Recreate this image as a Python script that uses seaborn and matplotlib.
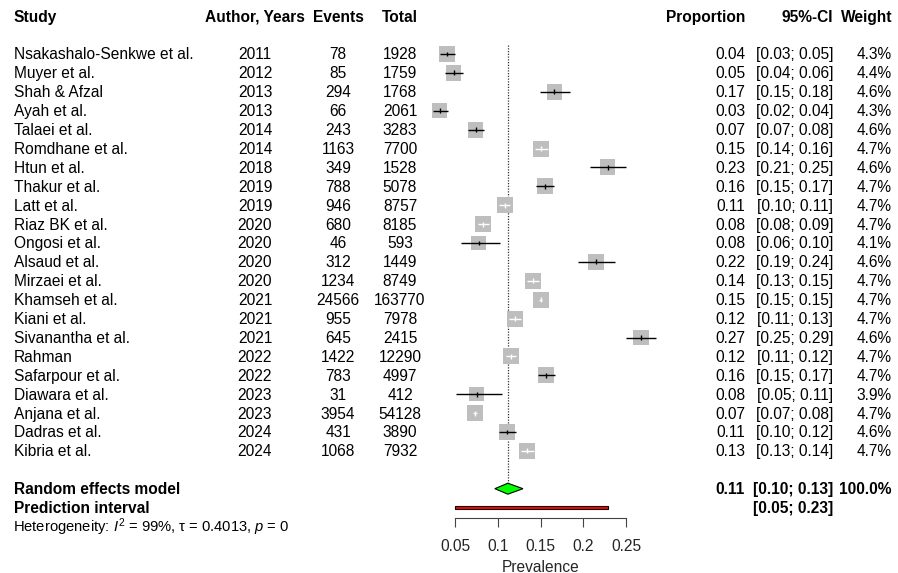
"""Forest plot of prevalence estimates (meta-analysis style)."""

import matplotlib

matplotlib.use("Agg")
import matplotlib.pyplot as plt
import matplotlib.transforms as mtransforms
import numpy as np
import pandas as pd
import seaborn as sns

studies = [
    "Nsakashalo-Senkwe et al.", "Muyer et al.", "Shah & Afzal", "Ayah et al.",
    "Talaei et al.", "Romdhane et al.", "Htun et al.", "Thakur et al.",
    "Latt et al.", "Riaz BK et al.", "Ongosi et al.", "Alsaud et al.",
    "Mirzaei et al.", "Khamseh et al.", "Kiani et al.", "Sivanantha et al.",
    "Rahman", "Safarpour et al.", "Diawara et al.", "Anjana et al.",
    "Dadras et al.", "Kibria et al.",
]
years = [2011, 2012, 2013, 2013, 2014, 2014, 2018, 2019, 2019, 2020, 2020,
         2020, 2020, 2021, 2021, 2021, 2022, 2022, 2023, 2023, 2024, 2024]
events = [78, 85, 294, 66, 243, 1163, 349, 788, 946, 680, 46,
          312, 1234, 24566, 955, 645, 1422, 783, 31, 3954, 431, 1068]
totals = [1928, 1759, 1768, 2061, 3283, 7700, 1528, 5078, 8757, 8185, 593,
          1449, 8749, 163770, 7978, 2415, 12290, 4997, 412, 54128, 3890, 7932]
proportion = [0.0405, 0.0483, 0.1663, 0.0320, 0.0740, 0.1510, 0.2284, 0.1552,
              0.1080, 0.0831, 0.0776, 0.2153, 0.1410, 0.1500, 0.1197, 0.2671,
              0.1157, 0.1567, 0.0752, 0.0730, 0.1108, 0.1346]
ci_lower = [0.0322, 0.0387, 0.1490, 0.0245, 0.0653, 0.1431, 0.2076, 0.1453,
            0.1016, 0.0772, 0.0573, 0.1944, 0.1338, 0.1483, 0.1126, 0.2495,
            0.1101, 0.1467, 0.0516, 0.0709, 0.1012, 0.1272]
ci_upper = [0.0502, 0.0596, 0.1840, 0.0418, 0.0836, 0.1592, 0.2499, 0.1654,
            0.1147, 0.0893, 0.1021, 0.2374, 0.1485, 0.1517, 0.1270, 0.2852,
            0.1215, 0.1669, 0.1051, 0.0753, 0.1209, 0.1423]
weights = [4.3, 4.4, 4.6, 4.3, 4.6, 4.7, 4.6, 4.7, 4.7, 4.7, 4.1,
           4.6, 4.7, 4.7, 4.7, 4.6, 4.7, 4.7, 3.9, 4.7, 4.6, 4.7]

re_est, re_lower, re_upper = 0.1118, 0.0966, 0.1295
pi_lower, pi_upper = 0.0502, 0.2295
x_ticks = [0.05, 0.1, 0.15, 0.2, 0.25]
tick_labels = ["0.05", "0.1", "0.15", "0.2", "0.25"]
hetstat = r"Heterogeneity: $I^2$ = 99%, τ = 0.4013, $p$ = 0"

FS = 11.2
W, H = 898, 573
ROW0, ROW_H = 54, 18.9          # pixel y of first study row, row height
XLIM = (0.01, 0.30)
PX_PER_UNIT = 855

sns.set_theme(style="white")
plt.rcParams.update(
    {
        "font.family": ["Liberation Sans", "DejaVu Sans"],
        "mathtext.fontset": "custom",
        "mathtext.rm": "Liberation Sans",
        "mathtext.it": "Liberation Sans:italic",
        "mathtext.bf": "Liberation Sans:bold",
        "text.color": "black",
    }
)

df = pd.DataFrame(
    {
        "study": studies, "year": years, "events": events, "total": totals,
        "prop": proportion, "lower": ci_lower, "upper": ci_upper, "weight": weights,
    }
)
df["row"] = np.arange(len(df))
n = len(df)
re_row, pi_row, het_row, head_row = n + 1, n + 2, n + 3, -2

fig = plt.figure(figsize=(W / 100, H / 100), dpi=100)
left_px = 455 - (0.05 - XLIM[0]) * PX_PER_UNIT
width_px = (XLIM[1] - XLIM[0]) * PX_PER_UNIT
ax = fig.add_axes([left_px / W, 0, width_px / W, 1])
ax.set_xlim(*XLIM)
ax.set_ylim((H - ROW0) / ROW_H, -ROW0 / ROW_H)
ax.patch.set_alpha(0)

# squares: area proportional to weight
big_side_px, w_max = 16.0, 4.7
area = lambda w: (big_side_px * np.sqrt(w / w_max) * 72 / 100) ** 2
sns.scatterplot(
    data=df, x="prop", y="row", size="weight",
    sizes=(area(df["weight"].min()), area(w_max)),
    size_norm=(df["weight"].min(), w_max),
    marker="s", color="#bebebe", linewidth=0, legend=False, ax=ax, zorder=2,
)

# CI lines: white when they sit inside the square
half_side = big_side_px * np.sqrt(df["weight"] / w_max) / 2 / PX_PER_UNIT
inside = ((df["prop"] - df["lower"]) < half_side) & ((df["upper"] - df["prop"]) < half_side)
colors = np.where(inside, "white", "black")
ax.hlines(df["row"], df["lower"], df["upper"], colors=colors, linewidth=1.0, zorder=3)
ax.vlines(df["prop"], df["row"] - 0.13, df["row"] + 0.13, colors=colors, linewidth=1.0, zorder=3)

# random-effects line, diamond and prediction interval
ax.vlines(re_est, -0.5, re_row - 0.3, colors="#333333", linestyles=(0, (1, 1.2)),
          linewidth=0.9, zorder=1)
dh = 0.29
ax.fill([re_lower, re_est, re_upper, re_est], [re_row, re_row - dh, re_row, re_row + dh],
        facecolor="#00ff00", edgecolor="black", linewidth=0.8, zorder=3)
ax.fill([pi_lower, pi_upper, pi_upper, pi_lower],
        [pi_row - 0.1, pi_row - 0.1, pi_row + 0.1, pi_row + 0.1],
        facecolor="#ff0000", edgecolor="black", linewidth=0.8, zorder=3)

# x axis
for side in ["top", "left", "right"]:
    ax.spines[side].set_visible(False)
ax.spines["bottom"].set_position(("data", n + 2.53))
ax.spines["bottom"].set_bounds(x_ticks[0], x_ticks[-1])
ax.spines["bottom"].set_color("#444444")
ax.spines["bottom"].set_linewidth(0.8)
ax.set_xticks(x_ticks, tick_labels)
ax.set_yticks([])
ax.tick_params(axis="x", bottom=True, direction="out", length=6.7, width=0.8,
               color="#444444", pad=9, labelsize=FS)
ax.set_xlabel("Prevalence", fontsize=FS)
ax.xaxis.set_label_coords(0.15, n + 4.75, transform=ax.transData)
ax.set_ylabel("")

# text columns (x in figure pixels, y in rows)
tr = mtransforms.blended_transform_factory(
    mtransforms.Affine2D().scale(1 / W, 1) + fig.transFigure, ax.transData
)
base = 0.29  # baseline offset so the caps sit centred on the row


def put(x, row, s, ha="left", bold=False, size=FS):
    ax.text(x, row + base, s, ha=ha, va="baseline", transform=tr, fontsize=size,
            fontweight="bold" if bold else "normal", clip_on=False)


headers = [(14, "Study", "left"), (255, "Author, Years", "center"), (338, "Events", "center"),
           (400, "Total", "center"), (745, "Proportion", "right"), (833, "95%-CI", "right"),
           (892, "Weight", "right")]
for x, s, ha in headers:
    put(x, head_row, s, ha=ha, bold=True)

for _, r in df.iterrows():
    i = r["row"]
    put(14, i, r["study"])
    put(255, i, str(r["year"]), ha="center")
    put(338, i, str(r["events"]), ha="center")
    put(400, i, str(r["total"]), ha="center")
    put(745, i, f"{r['prop']:.2f}", ha="right")
    put(833, i, f"[{r['lower']:.2f}; {r['upper']:.2f}]", ha="right")
    put(892, i, f"{r['weight']:.1f}%", ha="right")

put(14, re_row, "Random effects model", bold=True)
put(745, re_row, f"{re_est:.2f}", ha="right", bold=True)
put(833, re_row, f"[{re_lower:.2f}; {re_upper:.2f}]", ha="right", bold=True)
put(892, re_row, "100.0%", ha="right", bold=True)
put(14, pi_row, "Prediction interval", bold=True)
put(833, pi_row, f"[{pi_lower:.2f}; {pi_upper:.2f}]", ha="right", bold=True)
put(13, het_row, hetstat, size=FS * 0.945)

fig.savefig("out.png", dpi=100)
